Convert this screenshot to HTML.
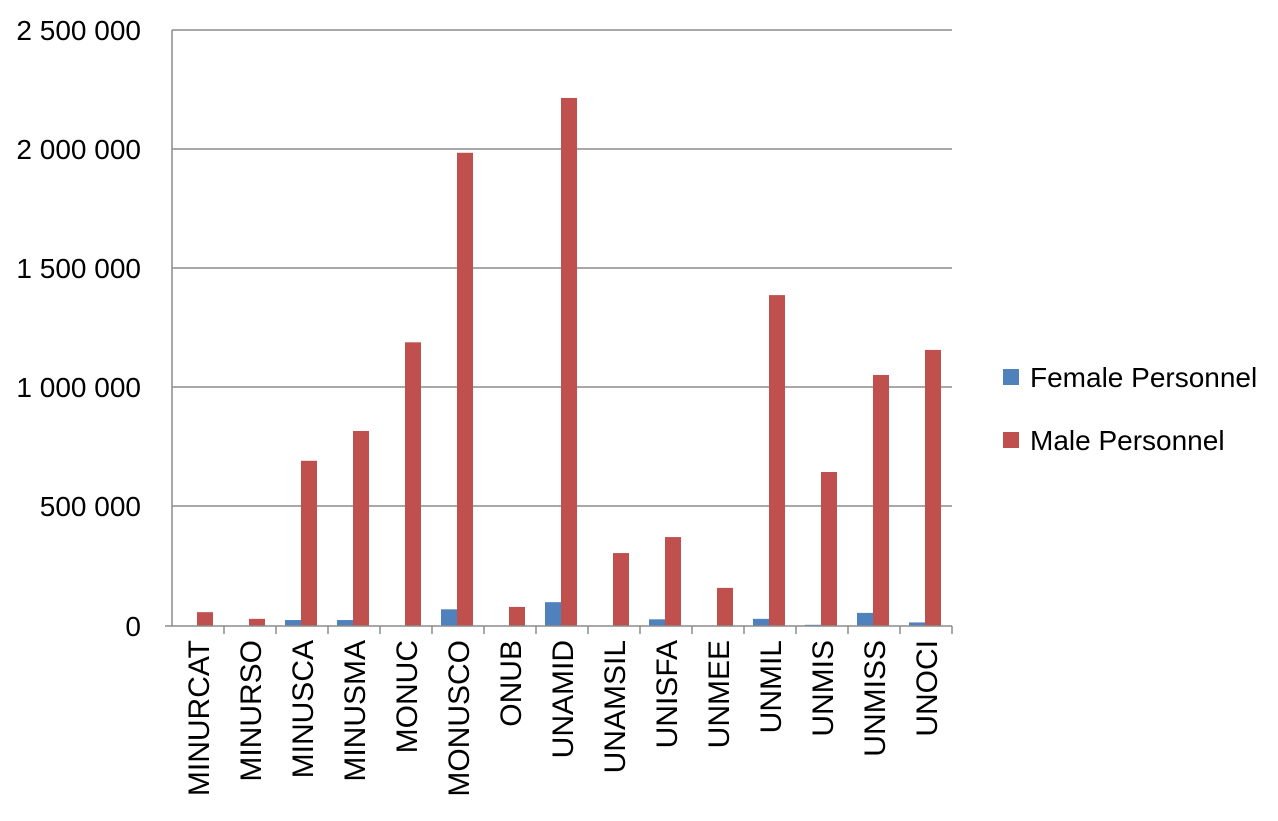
<!DOCTYPE html>
<html><head><meta charset="utf-8"><style>
body{margin:0;background:#fff;}
svg text{font-family:"Liberation Sans",sans-serif;fill:#000;}
</style></head><body>
<svg width="1278" height="816" viewBox="0 0 1278 816" xmlns="http://www.w3.org/2000/svg">
<g stroke="#8c8c8c" stroke-width="1.5">
<line x1="172" y1="30" x2="952" y2="30"/>
<line x1="172" y1="149" x2="952" y2="149"/>
<line x1="172" y1="268" x2="952" y2="268"/>
<line x1="172" y1="387" x2="952" y2="387"/>
<line x1="172" y1="506" x2="952" y2="506"/>
</g>
<g font-size="28" text-anchor="end">
<text x="141" y="40">2 500 000</text>
<text x="141" y="159">2 000 000</text>
<text x="141" y="278">1 500 000</text>
<text x="141" y="397">1 000 000</text>
<text x="141" y="516">500 000</text>
<text x="141" y="636">0</text>
</g>
<g id="bars"></g>
<g stroke="#8c8c8c" stroke-width="1.5">
<line x1="172" y1="30" x2="172" y2="626"/>
<line x1="165" y1="626" x2="952" y2="626"/>
</g>
<g id="ticks" stroke="#8c8c8c" stroke-width="1.5"></g>
<g id="labels" font-size="30"></g>
<rect x="1003" y="369" width="16" height="16" fill="#4f81bd"/>
<text x="1030" y="387" font-size="28">Female Personnel</text>
<rect x="1003" y="432" width="16" height="16" fill="#c0504d"/>
<text x="1030" y="450" font-size="28">Male Personnel</text>
<script>
var names=["MINURCAT","MINURSO","MINUSCA","MINUSMA","MONUC","MONUSCO","ONUB","UNAMID","UNAMSIL","UNISFA","UNMEE","UNMIL","UNMIS","UNMISS","UNOCI"];
var male=[58,30,693,818,1190,1985,80,2215,306,373,160,1388,646,1053,1158];
var fem=[1,1,25,25,2,70,2,100,2,28,2,30,5,55,15];
var ns="http://www.w3.org/2000/svg",b=document.getElementById("bars"),t=document.getElementById("ticks"),l=document.getElementById("labels");
var s=596/2500;
for(var i=0;i<15;i++){
 var c=172+52*i+26;
 var h=fem[i]*s,r=document.createElementNS(ns,"rect");
 r.setAttribute("x",c-17);r.setAttribute("width",16);r.setAttribute("y",626-h);r.setAttribute("height",h);r.setAttribute("fill","#4f81bd");b.appendChild(r);
 h=male[i]*s;r=document.createElementNS(ns,"rect");
 r.setAttribute("x",c-1);r.setAttribute("width",16);r.setAttribute("y",626-h);r.setAttribute("height",h);r.setAttribute("fill","#c0504d");b.appendChild(r);
 var k=document.createElementNS(ns,"line");var x=172+52*(i+1);
 k.setAttribute("x1",x);k.setAttribute("x2",x);k.setAttribute("y1",626);k.setAttribute("y2",634);t.appendChild(k);
 var tx=document.createElementNS(ns,"text");
 tx.setAttribute("transform","translate("+(c+11)+",640) rotate(-90)");tx.setAttribute("text-anchor","end");
 tx.textContent=names[i];l.appendChild(tx);
}
</script>
</svg>
</body></html>
